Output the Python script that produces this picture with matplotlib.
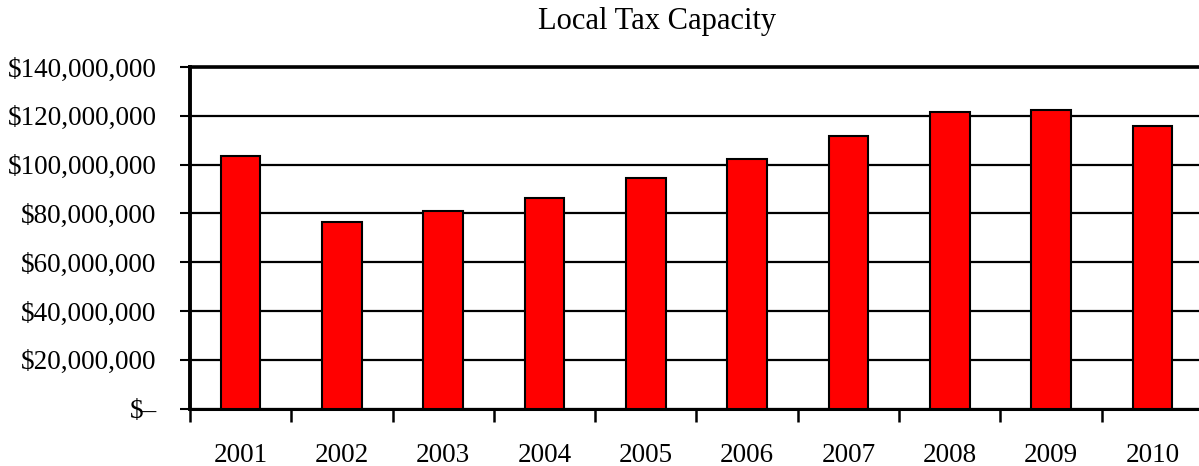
import matplotlib
matplotlib.use("Agg")
import matplotlib.pyplot as plt
from matplotlib.ticker import FuncFormatter, FixedLocator, NullFormatter
import numpy as np

# data (dollars)
years = ["2001", "2002", "2003", "2004", "2005", "2006", "2007", "2008", "2009", "2010"]
capacity = [103.4e6, 76.3e6, 81.1e6, 86.3e6, 94.5e6, 102.5e6, 111.6e6, 121.5e6, 122.3e6, 115.7e6]
y_ticks = [0, 20e6, 40e6, 60e6, 80e6, 100e6, 120e6, 140e6]

plt.rcParams['font.family'] = ['Liberation Serif', 'DejaVu Serif']

fig = plt.figure(figsize=(11.99, 4.66), dpi=100)
ax = fig.add_axes([190 / 1199, (466 - 408.6) / 466, (1203 - 190) / 1199, (408.6 - 67) / 466])

x = np.arange(len(years))
ax.bar(x, capacity, width=0.39, color="#ff0000", edgecolor="black", linewidth=1.5, zorder=3)

ax.set_ylim(0, 140e6)
ax.set_xlim(-0.5, len(years) - 0.5)

# gridlines
ax.set_yticks(y_ticks)
ax.yaxis.grid(True, color="black", linewidth=1.6, zorder=1)
ax.set_axisbelow(True)


def money(v, pos):
    if v == 0:
        return "$\u2013"
    return "${:,.0f}".format(v)


ax.yaxis.set_major_formatter(FuncFormatter(money))
ax.tick_params(axis="y", length=7, width=1.5, pad=17, labelsize=19.5, direction="out")

# year labels centred, ticks at category boundaries
ax.set_xticks(x)
ax.set_xticklabels(years)
ax.tick_params(axis="x", which="major", length=0, pad=25, labelsize=19.5)
ax.xaxis.set_minor_locator(FixedLocator(np.arange(-0.5, len(years), 1.0)))
ax.xaxis.set_minor_formatter(NullFormatter())
ax.tick_params(axis="x", which="minor", length=9, width=1.8, direction="out")

ax.spines["right"].set_visible(False)
ax.spines["top"].set_linewidth(2.6)
ax.spines["left"].set_linewidth(2.8)
ax.spines["bottom"].set_linewidth(2.2)

fig.text(657 / 1199, 1 - 22 / 466, "Local Tax Capacity", ha="center", va="center", fontsize=22)

fig.savefig("out.png", dpi=100)
